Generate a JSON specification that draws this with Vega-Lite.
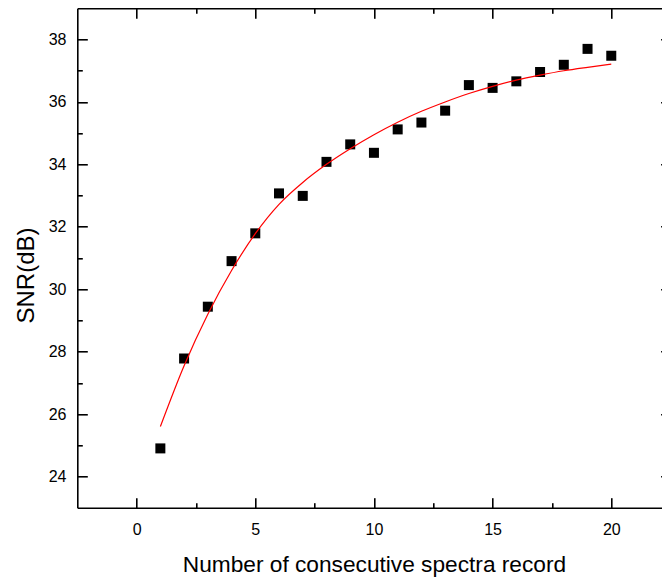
{
  "$schema": "https://vega.github.io/schema/vega-lite/v6.json",
  "width": 593.3,
  "height": 499.4,
  "autosize": {"type": "none"},
  "padding": {"left": 77.3, "top": 8.3, "right": -8.6, "bottom": 71.3},
  "background": "white",
  "config": {
    "view": {"stroke": null},
    "axis": {
      "domainColor": "black",
      "domainWidth": 1.6,
      "tickColor": "black",
      "tickWidth": 1.6,
      "labelFont": "Liberation Sans",
      "labelFontSize": 16,
      "labelColor": "black",
      "titleFont": "Liberation Sans",
      "titleFontWeight": "normal",
      "titleColor": "black",
      "grid": false
    }
  },
  "datasets": {
    "points": [
      {"x": 1, "y": 24.90}, {"x": 2, "y": 27.78}, {"x": 3, "y": 29.44}, {"x": 4, "y": 30.90},
      {"x": 5, "y": 31.79}, {"x": 6, "y": 33.07}, {"x": 7, "y": 32.99}, {"x": 8, "y": 34.08},
      {"x": 9, "y": 34.64}, {"x": 10, "y": 34.37}, {"x": 11, "y": 35.12}, {"x": 12, "y": 35.34},
      {"x": 13, "y": 35.72}, {"x": 14, "y": 36.54}, {"x": 15, "y": 36.45}, {"x": 16, "y": 36.66},
      {"x": 17, "y": 36.96}, {"x": 18, "y": 37.19}, {"x": 19, "y": 37.70}, {"x": 20, "y": 37.48}
    ],
    "fit": [
      {"x": 1, "y": 25.60}, {"x": 2, "y": 27.55}, {"x": 3, "y": 29.20}, {"x": 4, "y": 30.60},
      {"x": 5, "y": 31.78}, {"x": 6, "y": 32.72}, {"x": 7, "y": 33.42}, {"x": 8, "y": 34.00},
      {"x": 9, "y": 34.50}, {"x": 10, "y": 34.95}, {"x": 11, "y": 35.35}, {"x": 12, "y": 35.70},
      {"x": 13, "y": 36.00}, {"x": 14, "y": 36.27}, {"x": 15, "y": 36.50}, {"x": 16, "y": 36.70},
      {"x": 17, "y": 36.86}, {"x": 18, "y": 37.00}, {"x": 19, "y": 37.11}, {"x": 20, "y": 37.21}
    ]
  },
  "layer": [
    {
      "data": {"name": "points"},
      "mark": {"type": "point", "shape": "square", "filled": true, "size": 100, "color": "black", "opacity": 1, "strokeWidth": 0},
      "encoding": {
        "x": {
          "field": "x", "type": "quantitative",
          "scale": {"domain": [-2.5, 22.5], "nice": false, "zero": false},
          "axis": {
            "orient": "bottom",
            "values": [0, 2.5, 5, 7.5, 10, 12.5, 15, 17.5, 20],
            "labelExpr": "datum.value % 5 == 0 ? datum.label : ''",
            "tickSize": {"condition": {"test": "datum.value % 5 != 0", "value": -5}, "value": -10},
            "labelPadding": 24,
            "title": "Number of consecutive spectra record",
            "titleFontSize": 22.7,
            "titleBaseline": "alphabetic",
            "titleY": 64
          }
        },
        "y": {
          "field": "y", "type": "quantitative",
          "scale": {"domain": [23, 39], "nice": false, "zero": false},
          "axis": {
            "orient": "left",
            "values": [24, 25, 26, 27, 28, 29, 30, 31, 32, 33, 34, 35, 36, 37, 38],
            "labelExpr": "datum.value % 2 == 0 ? datum.label : ''",
            "tickSize": {"condition": {"test": "datum.value % 2 != 0", "value": -5}, "value": -10},
            "labelPadding": 21.3,
            "title": "SNR(dB)",
            "titleFontSize": 24,
            "titleBaseline": "alphabetic",
            "titleAlign": "center",
            "titleAngle": -90,
            "titleX": -44,
            "titleY": 266.7
          }
        }
      }
    },
    {
      "data": {"name": "fit"},
      "mark": {"type": "line", "color": "#ff0000", "strokeWidth": 1.2, "interpolate": "monotone"},
      "encoding": {
        "x": {
          "field": "x", "type": "quantitative",
          "scale": {"domain": [-2.5, 22.5], "nice": false, "zero": false},
          "axis": {
            "orient": "top",
            "values": [0, 2.5, 5, 7.5, 10, 12.5, 15, 17.5, 20],
            "labels": false,
            "tickSize": {"condition": {"test": "datum.value % 5 != 0", "value": -5}, "value": -10},
            "title": null
          }
        },
        "y": {
          "field": "y", "type": "quantitative",
          "scale": {"domain": [23, 39], "nice": false, "zero": false},
          "axis": {
            "orient": "right",
            "values": [24, 25, 26, 27, 28, 29, 30, 31, 32, 33, 34, 35, 36, 37, 38],
            "labels": false,
            "tickSize": {"condition": {"test": "datum.value % 2 != 0", "value": -5}, "value": -10},
            "title": null
          }
        }
      }
    }
  ],
  "resolve": {"axis": {"x": "independent", "y": "independent"}}
}
